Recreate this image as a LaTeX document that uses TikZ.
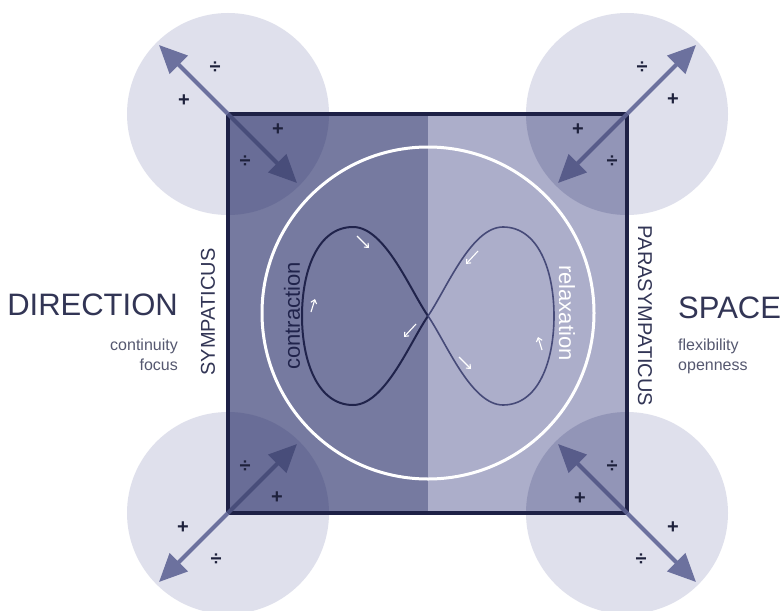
\documentclass[tikz,border=0pt]{standalone}
\usepackage{fontspec}
\setmainfont{Liberation Sans}
\usetikzlibrary{arrows.meta}
\definecolor{lefthalf}{RGB}{118,122,160}
\definecolor{righthalf}{RGB}{172,174,202}
\definecolor{circtint}{RGB}{80,86,150}
\definecolor{innertint}{RGB}{30,33,70}
\definecolor{sqborder}{RGB}{30,33,70}
\definecolor{arrowout}{RGB}{108,113,158}
\definecolor{arrowinl}{RGB}{72,77,122}
\definecolor{arrowinr}{RGB}{88,92,138}
\definecolor{loopdark}{RGB}{32,35,75}
\definecolor{looplight}{RGB}{70,74,120}
\definecolor{titletext}{RGB}{50,53,85}
\definecolor{smalltext}{RGB}{85,88,112}
\definecolor{signcol}{RGB}{30,33,60}
\tikzset{
  corncirc/.style={fill=circtint, fill opacity=0.18},
  arrbase/.style={line width=4pt, -{Triangle[length=28pt,width=25pt]}},
  sign/.style={font=\fontsize{20}{20}\selectfont\bfseries, text=signcol, inner sep=0pt},
  flowarr/.style={white, line width=1.1pt, -{Straight Barb[length=3.5pt,width=6pt]}},
  sidelabel/.style={font=\fontsize{20}{20}\selectfont, text=titletext, inner sep=0pt},
  title/.style={font=\fontsize{31}{31}\selectfont, text=titletext, inner sep=0pt},
  subtitle/.style={font=\fontsize{16}{16}\selectfont, text=smalltext, inner sep=0pt}
}
\begin{document}
\begin{tikzpicture}[x=1pt,y=-1pt]
\useasboundingbox (0,0) rectangle (781,610);
\fill[white] (0,0) rectangle (781,610);
\coordinate (TL) at (228,114);
\coordinate (TR) at (627,114);
\coordinate (BL) at (228,513);
\coordinate (BR) at (627,513);
\coordinate (X) at (428,316);
% halves
\fill[lefthalf] (TL) rectangle (428,513);
\fill[righthalf] (428,114) rectangle (BR);
% corner circles
\foreach \p in {TL,TR,BL,BR} \fill[corncirc] (\p) circle (101);
\begin{scope}
\clip (TL) rectangle (BR);
\foreach \p in {TL,TR,BL,BR} \fill[innertint, fill opacity=0.07] (\p) circle (101);
\end{scope}
% white circle
\draw[white, line width=3pt] (428,313) circle (166);
% infinity
\draw[loopdark, line width=2pt] (X) .. controls (410,290) and (385,227) .. (353,227)
  .. controls (318,227) and (302,270) .. (302,316)
  .. controls (302,362) and (318,405) .. (353,405)
  .. controls (385,405) and (410,342) .. (X);
\draw[looplight, line width=1.6pt] (X) .. controls (446,290) and (471,227) .. (503,227)
  .. controls (538,227) and (554,270) .. (554,316)
  .. controls (554,362) and (538,405) .. (503,405)
  .. controls (471,405) and (446,342) .. (X);
% flow arrows
\draw[flowarr] (357,236) -- (369,248);
\draw[flowarr] (311,312) -- (315,299);
\draw[flowarr] (416,324) -- (404,337);
\draw[flowarr] (478,251) -- (466,264);
\draw[flowarr] (459,357) -- (471,369);
\draw[flowarr] (542,350) -- (538,337);
% square border
\draw[sqborder, line width=3.5pt] (TL) rectangle (BR);
% arrows
\coordinate (TLo) at (159,45);  \coordinate (TLi) at (297,183);
\coordinate (TRo) at (696,45);  \coordinate (TRi) at (558,183);
\coordinate (BLo) at (159,582); \coordinate (BLi) at (297,444);
\coordinate (BRo) at (696,582); \coordinate (BRi) at (558,444);
\draw[arrbase, arrowout] (TL) -- (TLo);
\draw[arrbase, arrowinl] (TL) -- (TLi);
\draw[arrbase, arrowout] (TR) -- (TRo);
\draw[arrbase, arrowinr] (TR) -- (TRi);
\draw[arrbase, arrowout] (BL) -- (BLo);
\draw[arrbase, arrowinl] (BL) -- (BLi);
\draw[arrbase, arrowout] (BR) -- (BRo);
\draw[arrbase, arrowinr] (BR) -- (BRi);
% signs
\node[sign] (s1) at (215,68) {÷};
\node[sign] (s2) at (184,101) {+};
\node[sign] (s3) at (278,130) {+};
\node[sign] (s4) at (245,162) {÷};
\node[sign] (s5) at (642,68) {÷};
\node[sign] (s6) at (673,100) {+};
\node[sign] (s7) at (578,130) {+};
\node[sign] (s8) at (612,162) {÷};
\node[sign] (s9) at (245,467) {÷};
\node[sign] (s10) at (277,498) {+};
\node[sign] (s11) at (183,528) {+};
\node[sign] (s12) at (216,560) {÷};
\node[sign] (s13) at (612,467) {÷};
\node[sign] (s14) at (580,499) {+};
\node[sign] (s15) at (673,528) {+};
\node[sign] (s16) at (641,560) {÷};
% labels
\node[font=\fontsize{22}{22}\selectfont, text=loopdark, rotate=90, inner sep=0pt] (contr) at (292,316) {contraction};
\node[font=\fontsize{22}{22}\selectfont, text=white, rotate=-90, inner sep=0pt] (relax) at (567,313) {relaxation};
\node[sidelabel, rotate=90] (symp) at (208,312) {SYMPATICUS};
\node[sidelabel, rotate=-90] (para) at (645,316) {PARASYMPATICUS};
\node[title, anchor=base east] (dir) at (178,315) {DIRECTION};
\node[subtitle, anchor=base east] (cont) at (178,350) {continuity};
\node[subtitle, anchor=base east] (foc) at (178,370) {focus};
\node[title, anchor=base west] (space) at (678,318) {SPACE};
\node[subtitle, anchor=base west] (flex) at (678,350) {flexibility};
\node[subtitle, anchor=base west] (open) at (678,370) {openness};
\end{tikzpicture}
\end{document}
